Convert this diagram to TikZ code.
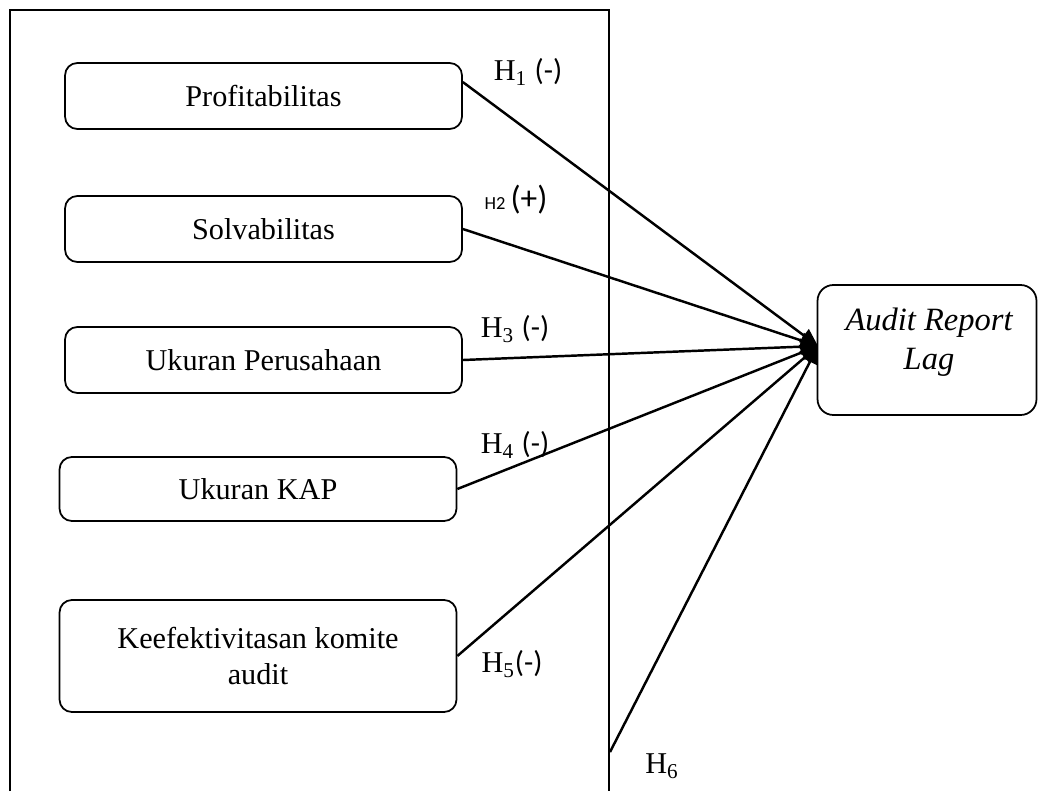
\documentclass[tikz,border=0pt]{standalone}
\usepackage{fontspec}
\setmainfont{Liberation Serif}
\newfontfamily\calibri{Carlito}
\usetikzlibrary{arrows.meta}
\begin{document}
\begin{tikzpicture}
  [x=0.02cm, y=-0.02cm,
   font=\fontsize{17.2}{20}\selectfont,
   var/.style={draw,rounded corners=7pt,line width=1pt,minimum width=7.94cm,minimum height=1.32cm,align=center},
   dep/.style={draw,rounded corners=9pt,line width=1pt,minimum width=4.38cm,minimum height=2.6cm,align=center},
   arr/.style={-{Triangle[length=10pt,width=9pt]},line width=1.4pt}]
  \useasboundingbox (0,0) rectangle (1040,791);
  \draw [line width=1pt] (10,791) -- (10,10) -- (609,10) -- (609,791);
  \node at (263.5,96) (prof) [var] {Profitabilitas};
  \node at (263.5,229) (solv) [var] {Solvabilitas};
  \node at (263.5,360) (ukper) [var] {Ukuran Perusahaan};
  \node at (258,489) (ukkap) [var,minimum height=1.28cm] {Ukuran KAP};
  \node at (258,656) (komite) [var,minimum height=2.24cm] {Keefektivitasan komite\\audit};
  \node at (927,350) (arl) [dep] {};
  \node at (929,342) (arltext) [align=center,font=\fontsize{18.5}{22.5}\selectfont\itshape] {Audit Report\\Lag};
  \coordinate (tip) at (818,346);
  \coordinate (h6) at (610,752);
  \draw [arr] (prof.4) -- (tip);
  \draw [arr] (solv.east) -- (tip);
  \draw [arr] (ukper.east) -- (tip);
  \draw [arr] (ukkap.east) -- (tip);
  \draw [arr] (komite.east) -- (tip);
  \draw [arr] (h6) -- (tip);
  % hypothesis labels
  \node at (528,72) (lh1) {H\textsubscript{1} {\calibri(-)}};
  \node at (516,200) (lh2) {{\calibri\fontsize{10.5}{12}\selectfont H2}\,{\calibri\fontsize{19}{21}\selectfont(+)}};
  \node at (515,329) (lh3) {H\textsubscript{3} {\calibri(-)}};
  \node at (515,445) (lh4) {H\textsubscript{4} {\calibri(-)}};
  \node at (512,664) (lh5) {H\textsubscript{5}{\calibri(-)}};
  \node at (662,766) (lh6) {H\textsubscript{6}};
\end{tikzpicture}
\end{document}
